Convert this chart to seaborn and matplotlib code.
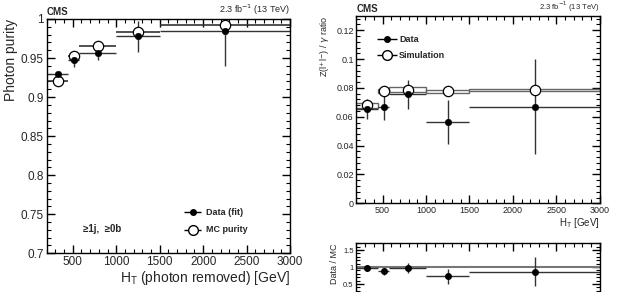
import numpy as np
import pandas as pd
import matplotlib
matplotlib.use("Agg")
import matplotlib.pyplot as plt
import seaborn as sns
from matplotlib.ticker import MultipleLocator

# HT bins (GeV)
bin_lo = [200, 450, 575, 1000, 1500]
bin_hi = [450, 575, 1000, 1500, 3000]

# panel 1: photon purity
purity_data = [0.9295, 0.947, 0.957, 0.978, 0.985]
purity_data_err = [0.003, 0.0085, 0.009, 0.02, 0.045]
purity_mc = [0.921, 0.953, 0.966, 0.983, 0.992]

# panel 2: Z(ll)/gamma ratio
ratio_data = [0.0655, 0.067, 0.0757, 0.0563, 0.067]
ratio_data_err = [0.007, 0.009, 0.010, 0.0155, 0.033]
ratio_sim = [0.068, 0.078, 0.0788, 0.0776, 0.0788]
ratio_sim_err = [0.0017, 0.0012, 0.0018, 0.0010, 0.0008]

# panel 3: data / MC
dmc = [0.97, 0.88, 0.97, 0.73, 0.86]
dmc_err = [0.10, 0.10, 0.14, 0.22, 0.43]

df = pd.DataFrame({"lo": bin_lo, "hi": bin_hi})
df["x"] = (df.lo + df.hi) / 2
df["xerr"] = (df.hi - df.lo) / 2

sns.set_theme(style="ticks")
plt.rcParams['font.family'] = ['Liberation Sans', 'DejaVu Sans']
plt.rcParams['axes.linewidth'] = 1.0

fig = plt.figure(figsize=(6.21, 2.92), dpi=100)
ax1 = fig.add_axes([0.0752, 0.1325, 0.392, 0.8025])
ax2 = fig.add_axes([0.574, 0.3038, 0.392, 0.642])
ax3 = fig.add_axes([0.574, -0.031, 0.392, 0.198])


def style(ax, xmaj, xmin, ymaj, ymin, size):
    ax.xaxis.set_major_locator(MultipleLocator(xmaj))
    ax.xaxis.set_minor_locator(MultipleLocator(xmin))
    ax.yaxis.set_major_locator(MultipleLocator(ymaj))
    ax.yaxis.set_minor_locator(MultipleLocator(ymin))
    ax.tick_params(which="both", direction="in", top=True, right=True,
                   color="black", labelsize=size, pad=2)
    ax.tick_params(which="major", length=6, width=1)
    ax.tick_params(which="minor", length=3, width=0.8)
    for s in ax.spines.values():
        s.set_color("black")


# ---- left: photon purity
ax1.errorbar(df.x, purity_mc, xerr=df.xerr, fmt="none", ecolor="#333333", elinewidth=1.2)
ax1.errorbar(df.x, purity_data, xerr=df.xerr, yerr=purity_data_err, fmt="none",
             ecolor="#333333", elinewidth=1.0)
sns.scatterplot(x=df.x, y=purity_mc, ax=ax1, marker="o", s=55, facecolor="white",
                edgecolor="black", linewidth=0.9, zorder=5)
sns.scatterplot(x=df.x, y=purity_data, ax=ax1, marker="o", s=22, color="black",
                edgecolor="black", zorder=6)
ax1.set_xlim(200, 3000)
ax1.set_ylim(0.7, 1.0)
style(ax1, 500, 100, 0.05, 0.01, 8.5)
ax1.set_yticks([0.7, 0.75, 0.8, 0.85, 0.9, 0.95, 1.0])
ax1.set_yticklabels(["0.7", "0.75", "0.8", "0.85", "0.9", "0.95", "1"])
ax1.set_ylabel("Photon purity", fontsize=10, loc="top", labelpad=2)
ax1.set_xlabel("H$_\\mathregular{T}$ (photon removed) [GeV]", fontsize=10, loc="right", labelpad=1)
ax1.text(0.0, 1.01, "CMS", transform=ax1.transAxes, fontsize=7, fontweight="bold",
         ha="left", va="bottom")
ax1.text(1.0, 1.01, "2.3 fb$^{-1}$ (13 TeV)", transform=ax1.transAxes, fontsize=6.5,
         ha="right", va="bottom")
ax1.text(0.15, 0.105, "\u22651j,  \u22650b", transform=ax1.transAxes, fontsize=7,
         fontweight="bold", ha="left", va="center")
ax1.errorbar([0.60], [0.175], xerr=[0.035], fmt="o", ms=4, color="black", elinewidth=1,
             transform=ax1.transAxes)
ax1.errorbar([0.60], [0.10], xerr=[0.035], fmt="o", ms=7, mfc="white", mec="black",
             color="black", elinewidth=1, transform=ax1.transAxes)
ax1.text(0.655, 0.175, "Data (fit)", transform=ax1.transAxes, fontsize=6.5,
         fontweight="bold", va="center")
ax1.text(0.655, 0.10, "MC purity", transform=ax1.transAxes, fontsize=6.5,
         fontweight="bold", va="center")

# ---- right top: Z/gamma ratio
ax2.bar(df.lo, [2 * e for e in ratio_sim_err], width=df.hi - df.lo, align="edge",
        bottom=[v - e for v, e in zip(ratio_sim, ratio_sim_err)], fill=False,
        edgecolor="#666666", linewidth=1.0)
ax2.errorbar(df.x, ratio_data, xerr=df.xerr, yerr=ratio_data_err, fmt="none",
             ecolor="#333333", elinewidth=1.0)
sns.scatterplot(x=df.x, y=ratio_sim, ax=ax2, marker="o", s=55, facecolor="white",
                edgecolor="black", linewidth=0.9, zorder=5)
sns.scatterplot(x=df.x, y=ratio_data, ax=ax2, marker="o", s=22, color="black",
                edgecolor="black", zorder=6)
ax2.set_xlim(200, 3000)
ax2.set_ylim(0, 0.13)
style(ax2, 500, 100, 0.02, 0.004, 6.5)
ax2.set_yticks([0, 0.02, 0.04, 0.06, 0.08, 0.1, 0.12])
ax2.set_yticklabels(["0", "0.02", "0.04", "0.06", "0.08", "0.1", "0.12"])
ax2.set_ylabel("Z(l$^{+}$l$^{-}$) / $\\gamma$ ratio", fontsize=6.5, loc="top", labelpad=3)
ax2.set_xlabel("H$_\\mathregular{T}$ [GeV]", fontsize=7, loc="right", labelpad=1)
ax2.text(0.0, 1.01, "CMS", transform=ax2.transAxes, fontsize=7, fontweight="bold",
         ha="left", va="bottom")
ax2.text(1.0, 1.01, "2.3 fb$^{-1}$ (13 TeV)", transform=ax2.transAxes, fontsize=5.5,
         ha="right", va="bottom")
ax2.errorbar([0.125], [0.875], xerr=[0.04], fmt="o", ms=4, color="black", elinewidth=1,
             transform=ax2.transAxes)
ax2.errorbar([0.125], [0.79], xerr=[0.04], fmt="o", ms=7, mfc="white", mec="black",
             color="black", elinewidth=1, transform=ax2.transAxes)
ax2.text(0.175, 0.875, "Data", transform=ax2.transAxes, fontsize=6.5,
         fontweight="bold", va="center")
ax2.text(0.175, 0.79, "Simulation", transform=ax2.transAxes, fontsize=6.5,
         fontweight="bold", va="center")

# ---- right bottom: Data / MC
ax3.axhline(1.0, color="#777777", linewidth=1.5)
ax3.errorbar(df.x, dmc, xerr=df.xerr, yerr=dmc_err, fmt="o", ms=4, color="black",
             ecolor="#333333", elinewidth=1.0)
ax3.set_xlim(200, 3000)
ax3.set_ylim(0, 1.7)
style(ax3, 500, 100, 0.5, 0.1, 5.5)
ax3.set_yticks([0.5, 1.0, 1.5])
ax3.set_yticklabels(["0.5", "1", "1.5"])
ax3.tick_params(labelbottom=False)
ax3.set_ylabel("Data / MC", fontsize=6.5, loc="top", labelpad=3)

fig.savefig("out.png", dpi=100)
